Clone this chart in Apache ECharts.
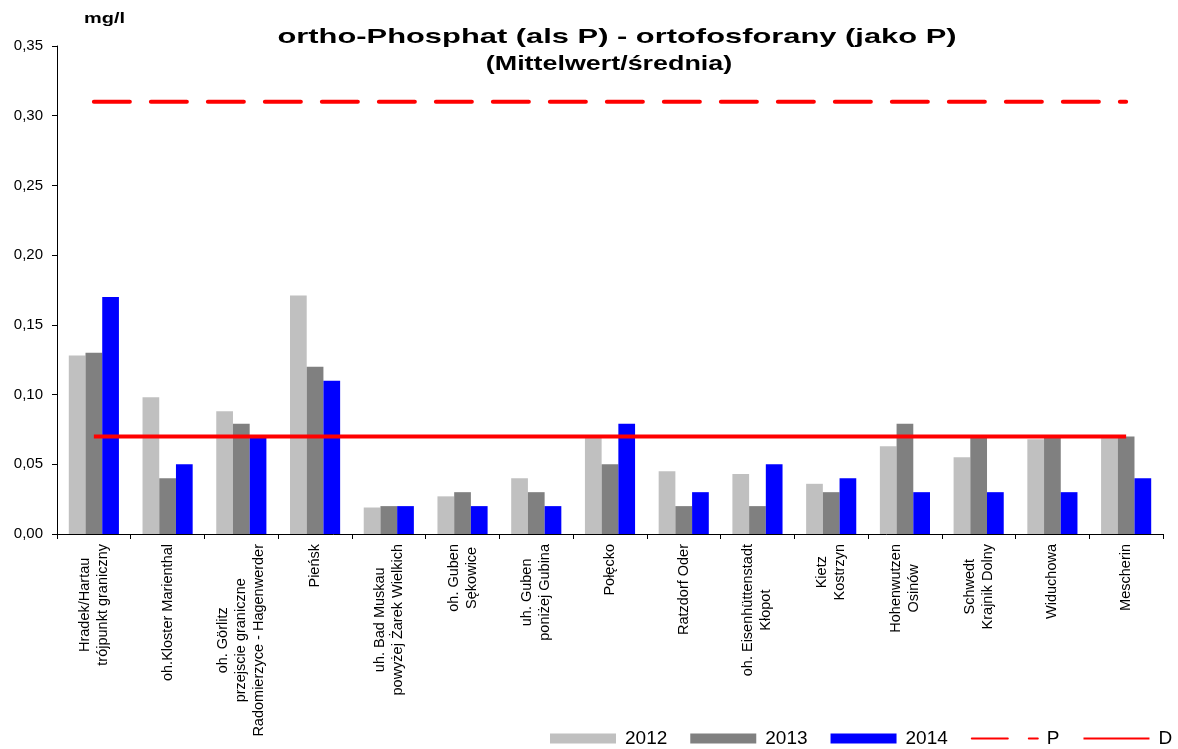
<!DOCTYPE html>
<html>
<head>
<meta charset="utf-8">
<script src="https://cdn.jsdelivr.net/npm/echarts@6/dist/echarts.min.js"></script>
<style>
html,body{margin:0;padding:0;background:#fff;}
#chart{width:1178px;height:749px;}
</style>
</head>
<body>
<div id="chart"></div>
<script>
const categories = [
  "Hradek/Hartau\ntrójpunkt graniczny",
  "oh.Kloster Marienthal",
  "oh. Görlitz\nprzejscie graniczne\nRadomierzyce - Hagenwerder",
  "Pieńsk",
  "uh. Bad Muskau\npowyżej Żarek Wielkich",
  "oh. Guben\nSękowice",
  "uh. Guben\nponiżej Gubina",
  "Połęcko",
  "Ratzdorf Oder",
  "oh. Eisenhüttenstadt\nKłopot",
  "Kietz\nKostrzyn",
  "Hohenwutzen\nOsinów",
  "Schwedt\nKrajnik Dolny",
  "Widuchowa",
  "Mescherin"
];
const values2012 = [0.128, 0.098, 0.088, 0.171, 0.019, 0.027, 0.040, 0.070, 0.045, 0.043, 0.036, 0.063, 0.055, 0.068, 0.070];
const values2013 = [0.130, 0.040, 0.079, 0.120, 0.020, 0.030, 0.030, 0.050, 0.020, 0.020, 0.030, 0.079, 0.070, 0.070, 0.070];
const values2014 = [0.170, 0.050, 0.070, 0.110, 0.020, 0.020, 0.020, 0.079, 0.030, 0.050, 0.040, 0.030, 0.030, 0.030, 0.040];
const limitP = categories.map(() => 0.31);
const limitD = categories.map(() => 0.07);
const yTicks = { min: 0, max: 0.35, interval: 0.05 };
const titleText = 'ortho-Phosphat (als P) - ortofosforany (jako P)';
const subtitleText = '(Mittelwert/średnia)';
const unitText = 'mg/l';

const FONT = '"Liberation Sans", Arial, sans-serif';
const chart = echarts.init(document.getElementById('chart'), null, { renderer: 'canvas' });

chart.setOption({
  animation: false,
  backgroundColor: '#ffffff',
  graphic: [
    { type: 'text', x: 617, y: 37, scaleX: 1.47, z: 10,
      style: { text: titleText, font: 'bold 21px ' + FONT, fill: '#000', textAlign: 'center', textVerticalAlign: 'middle' } },
    { type: 'text', x: 609, y: 64, scaleX: 1.28, z: 10,
      style: { text: subtitleText, font: 'bold 21px ' + FONT, fill: '#000', textAlign: 'center', textVerticalAlign: 'middle' } },
    { type: 'text', x: 84, y: 18.5, scaleX: 1.33, z: 10,
      style: { text: unitText, font: 'bold 15px ' + FONT, fill: '#000', textAlign: 'left', textVerticalAlign: 'middle' } }
  ],
  legend: {
    left: 550, top: 729, padding: 0, itemGap: 23, itemWidth: 66, itemHeight: 10,
    textStyle: { fontFamily: FONT, fontSize: 19, color: '#000', padding: [0, 0, 0, 4] },
    data: [
      { name: '2012', icon: 'rect' },
      { name: '2013', icon: 'rect' },
      { name: '2014', icon: 'rect' },
      { name: 'P', itemStyle: { opacity: 0 } },
      { name: 'D', itemStyle: { opacity: 0 } }
    ]
  },
  grid: { left: 57, right: 15, top: 46, bottom: 215, containLabel: false },
  xAxis: {
    type: 'category',
    data: categories,
    axisLine: { lineStyle: { color: '#000', width: 1 } },
    axisTick: { show: true, length: 5, lineStyle: { color: '#000' } },
    axisLabel: {
      interval: 0, rotate: 90, margin: 10, color: '#000',
      fontFamily: FONT, fontSize: 14.5, lineHeight: 18,
      formatter: (v) => v.split('\n').map(l => '{c|' + l + '}').join('\n'),
      rich: { c: { align: 'center', fontFamily: FONT, fontSize: 14.5, lineHeight: 18, color: '#000' } }
    }
  },
  yAxis: {
    type: 'value',
    min: yTicks.min, max: yTicks.max, interval: yTicks.interval,
    axisLine: { show: true, lineStyle: { color: '#000', width: 1 } },
    axisTick: { show: true, length: 5, lineStyle: { color: '#000' } },
    splitLine: { show: false },
    axisLabel: {
      margin: 14, color: '#000', fontFamily: FONT, fontSize: 15,
      formatter: (v) => v.toFixed(2).replace('.', ',')
    }
  },
  series: [
    { name: '2012', type: 'bar', data: values2012, barGap: '0%', barCategoryGap: '32%',
      itemStyle: { color: '#C0C0C0' } },
    { name: '2013', type: 'bar', data: values2013, barGap: '0%', barCategoryGap: '32%',
      itemStyle: { color: '#808080' } },
    { name: '2014', type: 'bar', data: values2014, barGap: '0%', barCategoryGap: '32%',
      itemStyle: { color: '#0000FF' } },
    { name: 'P', type: 'line', data: limitP, symbol: 'none', z: 5,
      itemStyle: { color: '#FF0000' },
      lineStyle: { color: '#FF0000', width: 4, type: [36, 21], cap: 'round' } },
    { name: 'D', type: 'line', data: limitD, symbol: 'none', z: 5,
      itemStyle: { color: '#FF0000' },
      lineStyle: { color: '#FF0000', width: 4, type: 'solid' } }
  ]
});
</script>
</body>
</html>
